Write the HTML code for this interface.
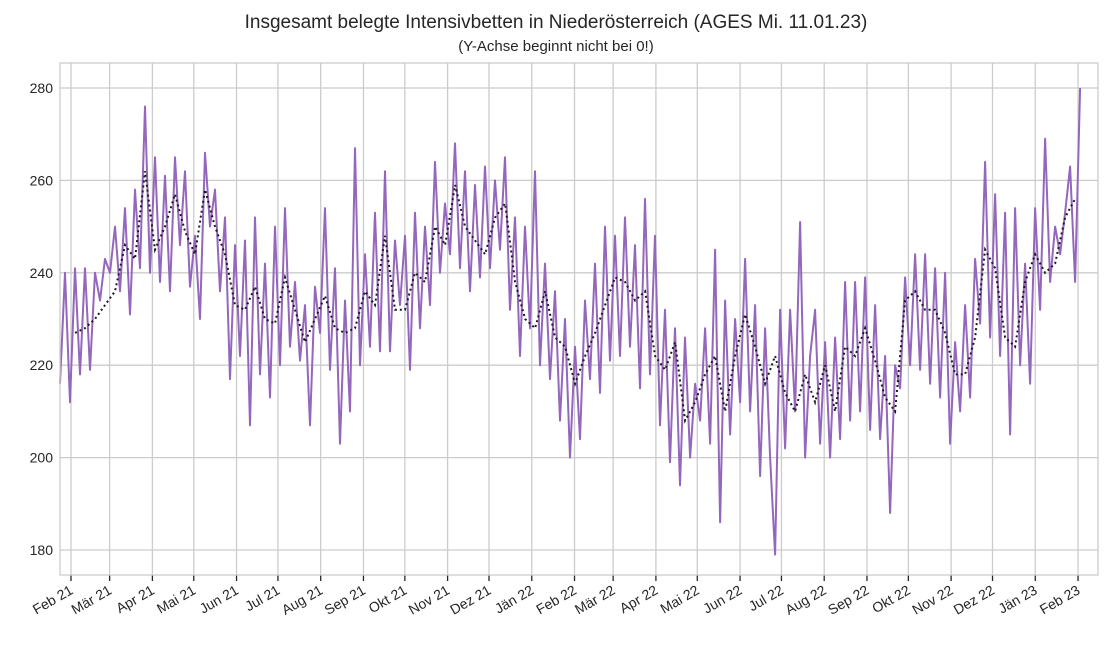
<!DOCTYPE html>
<html><head><meta charset="utf-8"><style>
body{margin:0;background:#fff;}
svg{display:block;font-family:"Liberation Sans",sans-serif;}
</style></head><body>
<svg id="chart" width="1113" height="651" viewBox="0 0 1113 651">
<text x="556" y="28" text-anchor="middle" font-size="19" fill="#262626">Insgesamt belegte Intensivbetten in Niederösterreich (AGES Mi. 11.01.23)</text>
<text x="556" y="51" text-anchor="middle" font-size="15" fill="#262626">(Y-Achse beginnt nicht bei 0!)</text>
<g id="grid"></g><g id="series"></g><g id="axes"></g>
</svg>
<script>
const yTicks=[180,200,220,240,260,280];
const monthLabels=["Feb 21","Mär 21","Apr 21","Mai 21","Jun 21","Jul 21","Aug 21","Sep 21","Okt 21","Nov 21","Dez 21","Jän 22","Feb 22","Mär 22","Apr 22","Mai 22","Jun 22","Jul 22","Aug 22","Sep 22","Okt 22","Nov 22","Dez 22","Jän 23","Feb 23"];
const monthDays=[0,28,59,89,120,150,181,212,242,273,303,334,365,393,424,454,485,515,546,577,607,638,668,699,730];
const rawStartDay=-8, rawStepDays=3.625;
const rawValues=[216,240,212,241,218,241,219,240,234,243,240,250,236,254,231,258,241,276,240,265,238,261,236,265,246,262,237,248,230,266,250,258,236,252,217,246,222,247,207,252,218,242,213,250,220,254,224,238,221,233,207,237,227,254,219,241,203,234,210,267,220,244,224,253,223,262,223,247,233,248,219,253,228,250,233,264,240,255,244,268,241,262,236,259,239,263,241,260,245,265,232,252,222,250,228,262,220,242,217,236,208,230,200,224,204,234,217,242,214,250,221,248,222,252,224,246,215,256,218,248,207,232,199,228,194,226,200,216,208,228,203,245,186,234,205,230,212,243,210,233,196,228,200,179,232,202,232,210,251,200,222,232,203,225,200,226,204,238,208,238,210,239,206,233,204,222,188,220,215,239,220,244,219,244,216,241,213,240,203,225,210,233,213,243,229,264,226,257,222,253,205,254,220,242,216,254,232,269,238,250,244,253,263,238,280];
const trendStartDay=2.9, trendStepDays=7.25;
const trendValues=[227,228,230,233,236,246,243,262,245,250,257,249,244,258,250,244,233,232,237,230,229,239,232,225,230,235,228,227,228,236,233,248,232,232,240,238,250,246,259,250,247,244,252,255,238,230,228,236,226,224,216,222,227,233,239,238,234,236,222,219,225,208,212,218,222,210,222,231,224,216,222,214,210,218,212,220,210,224,222,228,221,213,210,234,236,232,232,227,218,218,226,245,241,226,224,238,244,240,242,252,256];
const L=60,R=1098,T=63,B=575;
const xs=d=>71+d*1.3795;
const ys=v=>88+(280-v)*4.62;
const NS="http://www.w3.org/2000/svg";
function mk(tag,attrs,parent){const e=document.createElementNS(NS,tag);for(const k in attrs)e.setAttribute(k,attrs[k]);parent.appendChild(e);return e;}
const grid=document.getElementById('grid'),series=document.getElementById('series'),axes=document.getElementById('axes');
yTicks.forEach(v=>{
 const g=mk('line',{x1:L,x2:R,y1:ys(v),y2:ys(v),stroke:'#cccccc','stroke-width':1.3},grid);
 
 
 const t=mk('text',{x:L-7,y:ys(v)+5,'text-anchor':'end','font-size':14,fill:'#262626'},axes);
 t.textContent=v;
 
 
});
monthDays.forEach((d,i)=>{
 const x=xs(d);
 const g=mk('line',{x1:x,x2:x,y1:T,y2:B,stroke:'#cccccc','stroke-width':1.3},grid);
 
 
 const tk=mk('line',{x1:x,x2:x,y1:B,y2:B+6,stroke:'#262626','stroke-width':1.3},axes);
 
 
 const t=mk('text',{x:x+3,y:B+18,'text-anchor':'end','font-size':14,fill:'#262626',transform:`rotate(-30 ${x+3} ${B+18})`},axes);
 t.textContent=monthLabels[i];
 
 
});
const frame=mk('rect',{x:L,y:T,width:R-L,height:B-T,fill:'none',stroke:'#cccccc','stroke-width':1.3},axes);


const rawPts=rawValues.map((v,i)=>xs(rawStartDay+i*rawStepDays).toFixed(1)+','+ys(v).toFixed(1)).join(' ');
const raw=mk('polyline',{points:rawPts,fill:'none',stroke:'#9467bd','stroke-width':2,'stroke-linejoin':'round'},series);


const trPts=trendValues.map((v,i)=>xs(trendStartDay+i*trendStepDays).toFixed(1)+','+ys(v).toFixed(1)).join(' ');
const tr=mk('polyline',{points:trPts,fill:'none',stroke:'#1a1a1a','stroke-width':2,'stroke-dasharray':'2,3'},series);


</script>
</body></html>
